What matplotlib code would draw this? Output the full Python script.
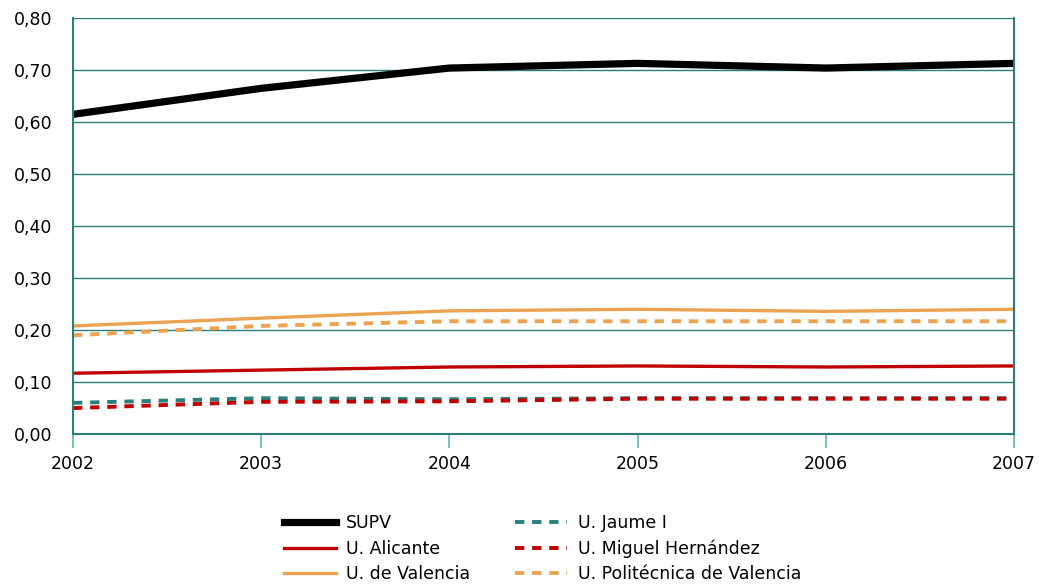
import matplotlib
matplotlib.use("Agg")
import matplotlib.pyplot as plt
from matplotlib.ticker import FuncFormatter

years = [2002, 2003, 2004, 2005, 2006, 2007]
supv = [0.615, 0.665, 0.704, 0.713, 0.704, 0.713]
alicante = [0.117, 0.123, 0.129, 0.131, 0.129, 0.131]
valencia = [0.208, 0.223, 0.237, 0.240, 0.236, 0.240]
jaume = [0.060, 0.069, 0.067, 0.069, 0.069, 0.069]
miguel = [0.050, 0.062, 0.063, 0.068, 0.068, 0.068]
politecnica = [0.190, 0.208, 0.217, 0.217, 0.217, 0.217]

teal = "#2a7f7a"
orange = "#eba352"
red = "#c00000"
dash = (0, (2.4, 2.0))

plt.rcParams["font.family"] = ["DejaVu Sans"]

fig = plt.figure(figsize=(10.39, 5.85), dpi=100)
ax = fig.add_axes([0.0703, 0.258, 0.9057, 0.711])

ax.plot(years, supv, color="black", lw=5.2, label="SUPV")
ax.plot(years, alicante, color=red, lw=2.4, label="U. Alicante")
ax.plot(years, valencia, color=orange, lw=2.4, label="U. de Valencia")
ax.plot(years, jaume, color=teal, lw=2.8, ls=dash, label="U. Jaume I")
ax.plot(years, miguel, color=red, lw=2.8, ls=dash, label="U. Miguel Hernández")
ax.plot(years, politecnica, color=orange, lw=2.8, ls=dash,
        label="U. Politécnica de Valencia")

ax.set_xlim(2002, 2007)
ax.set_ylim(0, 0.8)
ax.set_xticks(years)
ax.set_yticks([i / 10 for i in range(9)])
ax.yaxis.set_major_formatter(FuncFormatter(lambda v, p: f"{v:.2f}".replace(".", ",")))
ax.grid(axis="y", color=teal, lw=1)
ax.set_axisbelow(True)

for side in ["left", "bottom", "right"]:
    ax.spines[side].set_color(teal)
    ax.spines[side].set_linewidth(1.5)
ax.spines["top"].set_visible(False)

ax.tick_params(axis="y", length=0, labelsize=12.5, pad=15)
ax.tick_params(axis="x", length=10, color="#7fbfbf", width=1.5, labelsize=12.5, pad=5)

handles, labels = ax.get_legend_handles_labels()
fig.legend(handles, labels, loc="lower center", bbox_to_anchor=(0.522, -0.024), ncol=2,
           frameon=False, fontsize=12.5, handlelength=3.0, labelspacing=0.42,
           columnspacing=2.6, handletextpad=0.6)

fig.savefig("out.png", dpi=100)
